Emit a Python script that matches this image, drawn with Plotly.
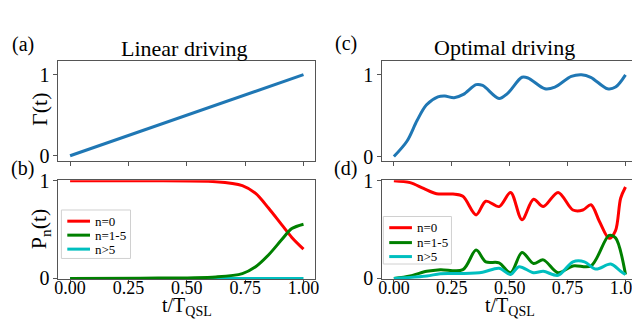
import plotly.graph_objects as go

# panel (a): linear driving
t_lin = [0.0, 0.25, 0.5, 0.75, 1.0]
gamma_lin = [0.0, 0.25, 0.5, 0.75, 1.0]

# panel (b): populations, linear driving
t_b = [0.0, 0.3, 0.625, 0.738, 0.795, 0.85, 0.908, 0.95, 1.0]
p0_b = [1.0, 1.0, 0.99, 0.95, 0.87, 0.72, 0.545, 0.42, 0.30]
p15_b = [0.0, 0.003, 0.016, 0.05, 0.12, 0.24, 0.40, 0.51, 0.555]
p5_b = [0.0, 0.0, 0.0, 0.0, 0.0, 0.0, 0.0, 0.0, 0.0]

# panel (c): optimal driving
t_c = [0.0, 0.057, 0.10, 0.14, 0.19, 0.22, 0.26, 0.30, 0.355, 0.383, 0.454, 0.49,
       0.553, 0.58, 0.652, 0.695, 0.766, 0.81, 0.85, 0.922, 0.957, 1.0]
gamma_opt = [0.0, 0.19, 0.44, 0.63, 0.73, 0.74, 0.72, 0.76, 0.88, 0.87, 0.71, 0.77,
             0.97, 0.96, 0.83, 0.85, 0.98, 1.0, 0.97, 0.83, 0.85, 1.0]

# panel (d): populations, optimal driving
t_d0 = [0.0, 0.07, 0.128, 0.184, 0.255, 0.298, 0.355, 0.397, 0.454, 0.504, 0.553,
        0.603, 0.645, 0.709, 0.773, 0.816, 0.851, 0.887, 0.929, 0.957, 0.979, 1.0]
p0_d = [1.0, 0.98, 0.92, 0.866, 0.863, 0.84, 0.65, 0.79, 0.735, 0.88, 0.60,
        0.81, 0.735, 0.88, 0.70, 0.70, 0.754, 0.585, 0.41, 0.49, 0.82, 0.935]
t_d1 = [0.0, 0.07, 0.142, 0.2, 0.298, 0.355, 0.397, 0.454, 0.504, 0.553, 0.603,
        0.645, 0.709, 0.773, 0.851, 0.929, 0.957, 1.0]
p15_d = [0.0, 0.025, 0.073, 0.09, 0.09, 0.29, 0.17, 0.16, 0.058, 0.265, 0.153,
         0.19, 0.058, 0.128, 0.128, 0.44, 0.415, 0.04]
t_d2 = [0.0, 0.142, 0.2, 0.298, 0.383, 0.454, 0.504, 0.54, 0.603, 0.645, 0.709,
        0.773, 0.823, 0.872, 0.936, 0.979, 1.0]
p5_d = [0.0, 0.025, 0.048, 0.05, 0.064, 0.105, 0.04, 0.12, 0.058, 0.073, 0.032,
        0.17, 0.17, 0.096, 0.147, 0.073, 0.04]

legend_labels = ["n=0", "n=1-5", "n>5"]
xticks = [0.0, 0.25, 0.5, 0.75, 1.0]
xticklabels = ["0.00", "0.25", "0.50", "0.75", "1.00"]

BLUE = "#1f77b4"
RED = "#ff0000"
GREEN = "#008000"
CYAN = "#00bfbf"
FONT = "Liberation Serif"
W, H = 640, 322

fig = go.Figure()

def line(x, y, color, xa, ya, name=None, shape="spline"):
    fig.add_trace(go.Scatter(
        x=x, y=y, mode="lines", name=name,
        line=dict(color=color, width=3, shape=shape, smoothing=0.9),
        xaxis=xa, yaxis=ya, showlegend=False))

line(t_lin, gamma_lin, BLUE, "x", "y", shape="linear")
# cyan first so the green curve covers it, as in the original
line(t_b, p5_b, CYAN, "x2", "y2", legend_labels[2])
line(t_b, p0_b, RED, "x2", "y2", legend_labels[0])
line(t_b, p15_b, GREEN, "x2", "y2", legend_labels[1])
line(t_c, gamma_opt, BLUE, "x3", "y3")
line(t_d0, p0_d, RED, "x4", "y4", legend_labels[0])
line(t_d1, p15_d, GREEN, "x4", "y4", legend_labels[1])
line(t_d2, p5_d, CYAN, "x4", "y4", legend_labels[2])

def px_x(v):
    return v / W

def px_y(v):
    return 1 - v / H

left = [px_x(47), px_x(307)]
right = [px_x(375), px_x(633)]
top = [px_y(152), px_y(45)]
bottom = [px_y(279), px_y(173)]

axis_common = dict(showline=True, mirror=True, linecolor="#555555", linewidth=1,
                   ticks="outside", ticklen=4, tickcolor="#555555", showgrid=False,
                   zeroline=False)

layout = dict(
    width=W, height=H, margin=dict(l=0, r=0, t=0, b=0),
    plot_bgcolor="white", paper_bgcolor="white",
    font=dict(family=FONT, color="black"), showlegend=False,
)
for i, (dx, dy, yr, showx) in enumerate([
        (left, top, [-0.06, 1.17], False),
        (left, bottom, [-0.005, 1.005], True),
        (right, top, [-0.05, 1.17], False),
        (right, bottom, [-0.005, 1.005], True)], start=1):
    sfx = "" if i == 1 else str(i)
    layout["xaxis" + sfx] = dict(domain=dx, range=[-0.05, 1.05], anchor="y" + sfx,
                                 tickvals=xticks, ticktext=xticklabels,
                                 showticklabels=showx, ticklabelstandoff=-12,
                                 tickfont=dict(family=FONT, size=18, color="black"),
                                 **axis_common)
    layout["yaxis" + sfx] = dict(domain=dy, range=yr, anchor="x" + sfx,
                                 tickvals=[0, 1], ticktext=["0", "1"],
                                 tickfont=dict(family=FONT, size=20, color="black"),
                                 **axis_common)

fig.update_layout(**layout)

def note(text, x, y, size, angle=0, xanchor="center"):
    fig.add_annotation(text=text, x=px_x(x), y=px_y(y), xref="paper", yref="paper",
                       showarrow=False, textangle=angle, xanchor=xanchor, yanchor="middle",
                       font=dict(family=FONT, size=size, color="black"))

# compact legend boxes (matplotlib style)
def legend_box(x0, y0, x1, y1, rows, colors):
    fig.add_shape(type="rect", xref="paper", yref="paper",
                  x0=px_x(x0), x1=px_x(x1), y0=px_y(y1), y1=px_y(y0),
                  line=dict(color="#d0d0d0", width=1), fillcolor="white", layer="above")
    for ry, c, lab in zip(rows, colors, legend_labels):
        fig.add_shape(type="line", xref="paper", yref="paper",
                      x0=px_x(x0 + 6), x1=px_x(x0 + 29), y0=px_y(ry), y1=px_y(ry),
                      line=dict(color=c, width=3), layer="above")
        note(lab, x0 + 32, ry, 13, xanchor="left")

legend_box(50, 205, 120, 257, [217, 232, 247], [RED, GREEN, CYAN])
legend_box(376, 212, 445, 263, [224, 240, 255], [RED, GREEN, CYAN])

note("(a)", 11, 27, 20)
note("(b)", 11, 160, 20)
note("(c)", 338, 26, 20)
note("(d)", 338, 160, 20)
note("Linear driving", 174, 32, 22)
note("Optimal driving", 499, 31, 22)
note("Γ(t)", 28, 97, 22, -90)
note("P<sub>n</sub>(t)", 28, 225, 22, -90)
note("t/T<sub>QSL</sub>", 177, 309, 20)
note("t/T<sub>QSL</sub>", 504, 309, 20)

fig.write_html("out.html")
